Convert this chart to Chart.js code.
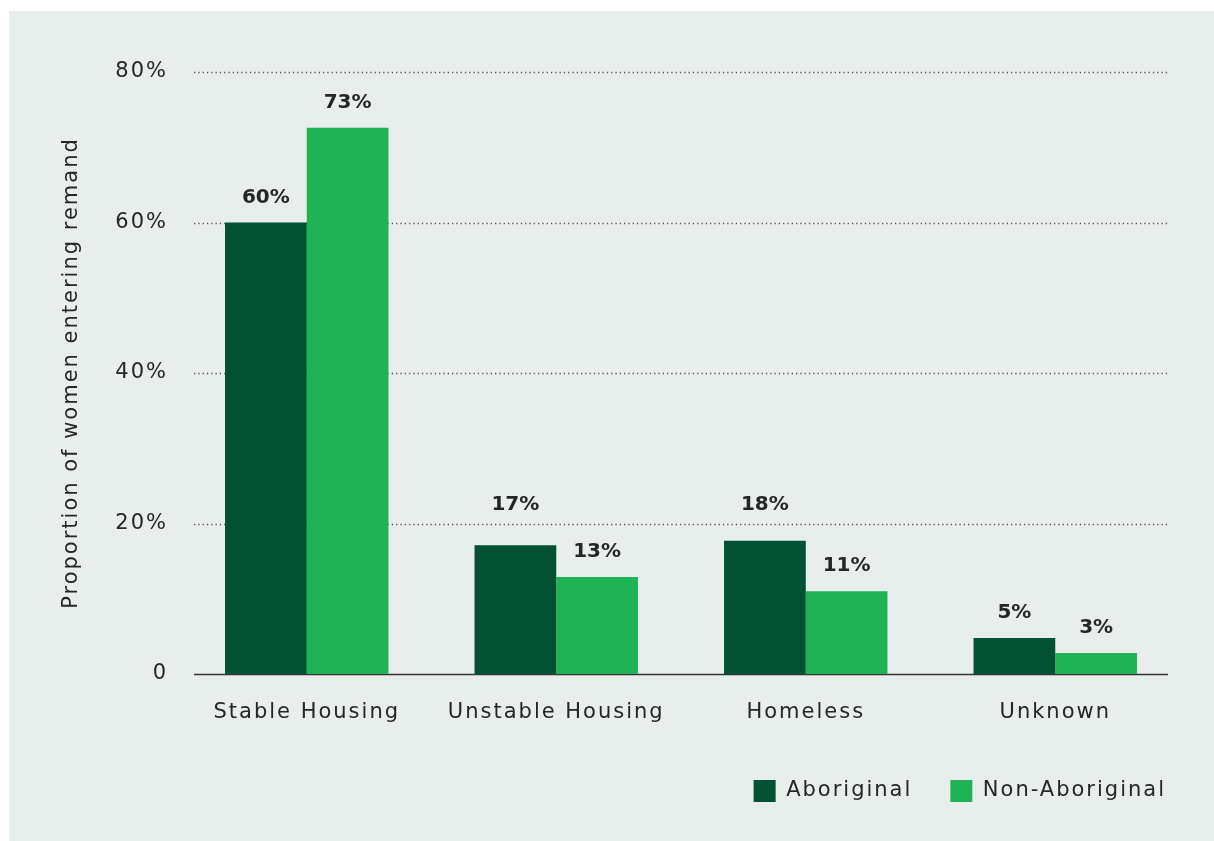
<!DOCTYPE html>
<html>
<head>
<meta charset="utf-8">
<script src="https://cdn.jsdelivr.net/npm/chart.js@4.4.1/dist/chart.umd.min.js"></script>
<style>
  html, body { margin: 0; padding: 0; background: #ffffff; }
  #panel { position: absolute; left: 9px; top: 11px; width: 1205px; height: 830px; background: #e8eeec; }
</style>
</head>
<body>
<div id="panel"><canvas id="housingChart" width="1205" height="830"></canvas></div>
<script>
const categories = ['Stable Housing', 'Unstable Housing', 'Homeless', 'Unknown'];
const aboriginal = [60, 17.1, 17.7, 4.8];
const nonAboriginal = [72.6, 12.9, 11.0, 2.8];
const yTicks = [0, 20, 40, 60, 80];

const textColor = '#262626';
const fontFamily = '"DejaVu Sans", sans-serif';

// the original font is a wide geometric face, so space the letters out a bit
const wideText = {
    id: 'wideText',
    beforeUpdate(chart) { chart.ctx.letterSpacing = '2px'; },
    beforeDraw(chart) { chart.ctx.letterSpacing = '2px'; },
    afterLayout(chart) {
        // push the legend to the right edge of the axis line
        chart.legend.left += 24;
        chart.legend.right += 24;
    }
};

// dotted gridlines + solid baseline, drawn a bit inside the chart area
const gridPlugin = {
    id: 'dottedGrid',
    beforeDatasetsDraw(chart) {
        const { ctx, chartArea, scales } = chart;
        const inset = 12;
        ctx.save();
        yTicks.forEach(t => {
            const y = Math.round(scales.y.getPixelForValue(t)) + 0.5;
            ctx.beginPath();
            if (t === 0) {
                ctx.setLineDash([]);
                ctx.lineWidth = 1.5;
                ctx.strokeStyle = '#333';
            } else {
                ctx.setLineDash([1.3, 3]);
                ctx.lineWidth = 1.3;
                ctx.strokeStyle = '#555';
            }
            ctx.moveTo(chartArea.left + inset, y);
            ctx.lineTo(chartArea.right - inset, y);
            ctx.stroke();
        });
        ctx.restore();
    }
};

// value labels above each bar, lifted over a gridline when they would sit on it
const valueLabels = {
    id: 'valueLabels',
    afterDatasetsDraw(chart) {
        const { ctx, scales } = chart;
        const gridYs = yTicks.filter(t => t > 0).map(t => scales.y.getPixelForValue(t));
        ctx.save();
        ctx.letterSpacing = '0px';
        ctx.font = 'bold 20px ' + fontFamily;
        ctx.fillStyle = textColor;
        ctx.textAlign = 'center';
        ctx.textBaseline = 'middle';
        chart.data.datasets.forEach((ds, i) => {
            chart.getDatasetMeta(i).data.forEach((bar, j) => {
                let y = bar.y - 25;
                gridYs.forEach(g => {
                    if (Math.abs(y - g) < 12) y = g - 19;
                });
                ctx.fillText(Math.round(ds.data[j]) + '%', bar.x, y);
            });
        });
        ctx.restore();
    }
};

const ctx = document.getElementById('housingChart').getContext('2d');
new Chart(ctx, {
    type: 'bar',
    data: {
        labels: categories,
        datasets: [
            {
                label: 'Aboriginal',
                data: aboriginal,
                backgroundColor: '#005232',
                categoryPercentage: 0.655,
                barPercentage: 1
            },
            {
                label: 'Non-Aboriginal',
                data: nonAboriginal,
                backgroundColor: '#1fb356',
                categoryPercentage: 0.655,
                barPercentage: 1
            }
        ]
    },
    options: {
        responsive: false,
        animation: false,
        layout: {
            padding: { left: 50, right: 34, top: 61, bottom: 29 }
        },
        plugins: {
            legend: {
                position: 'bottom',
                align: 'end',
                labels: {
                    color: textColor,
                    font: { family: fontFamily, size: 21 },
                    boxWidth: 22,
                    boxHeight: 22,
                    padding: 38
                }
            },
            tooltip: { enabled: false }
        },
        scales: {
            y: {
                min: 0,
                max: 80,
                afterFit(scale) { scale.width = 123; },
                afterBuildTicks(scale) { scale.ticks = yTicks.map(v => ({ value: v })); },
                grid: { display: false, drawTicks: false },
                border: { display: false },
                ticks: {
                    color: textColor,
                    font: { family: fontFamily, size: 21 },
                    padding: 14,
                    callback: v => v === 0 ? '0' : v + '%'
                },
                title: {
                    display: true,
                    text: 'Proportion of women entering remand',
                    color: textColor,
                    font: { family: fontFamily, size: 21 },
                    padding: 0
                }
            },
            x: {
                afterFit(scale) { scale.height = 68; },
                grid: { display: false, drawTicks: false },
                border: { display: false },
                ticks: {
                    color: textColor,
                    font: { family: fontFamily, size: 21 },
                    padding: 26
                }
            }
        }
    },
    plugins: [wideText, gridPlugin, valueLabels]
});
</script>
</body>
</html>
